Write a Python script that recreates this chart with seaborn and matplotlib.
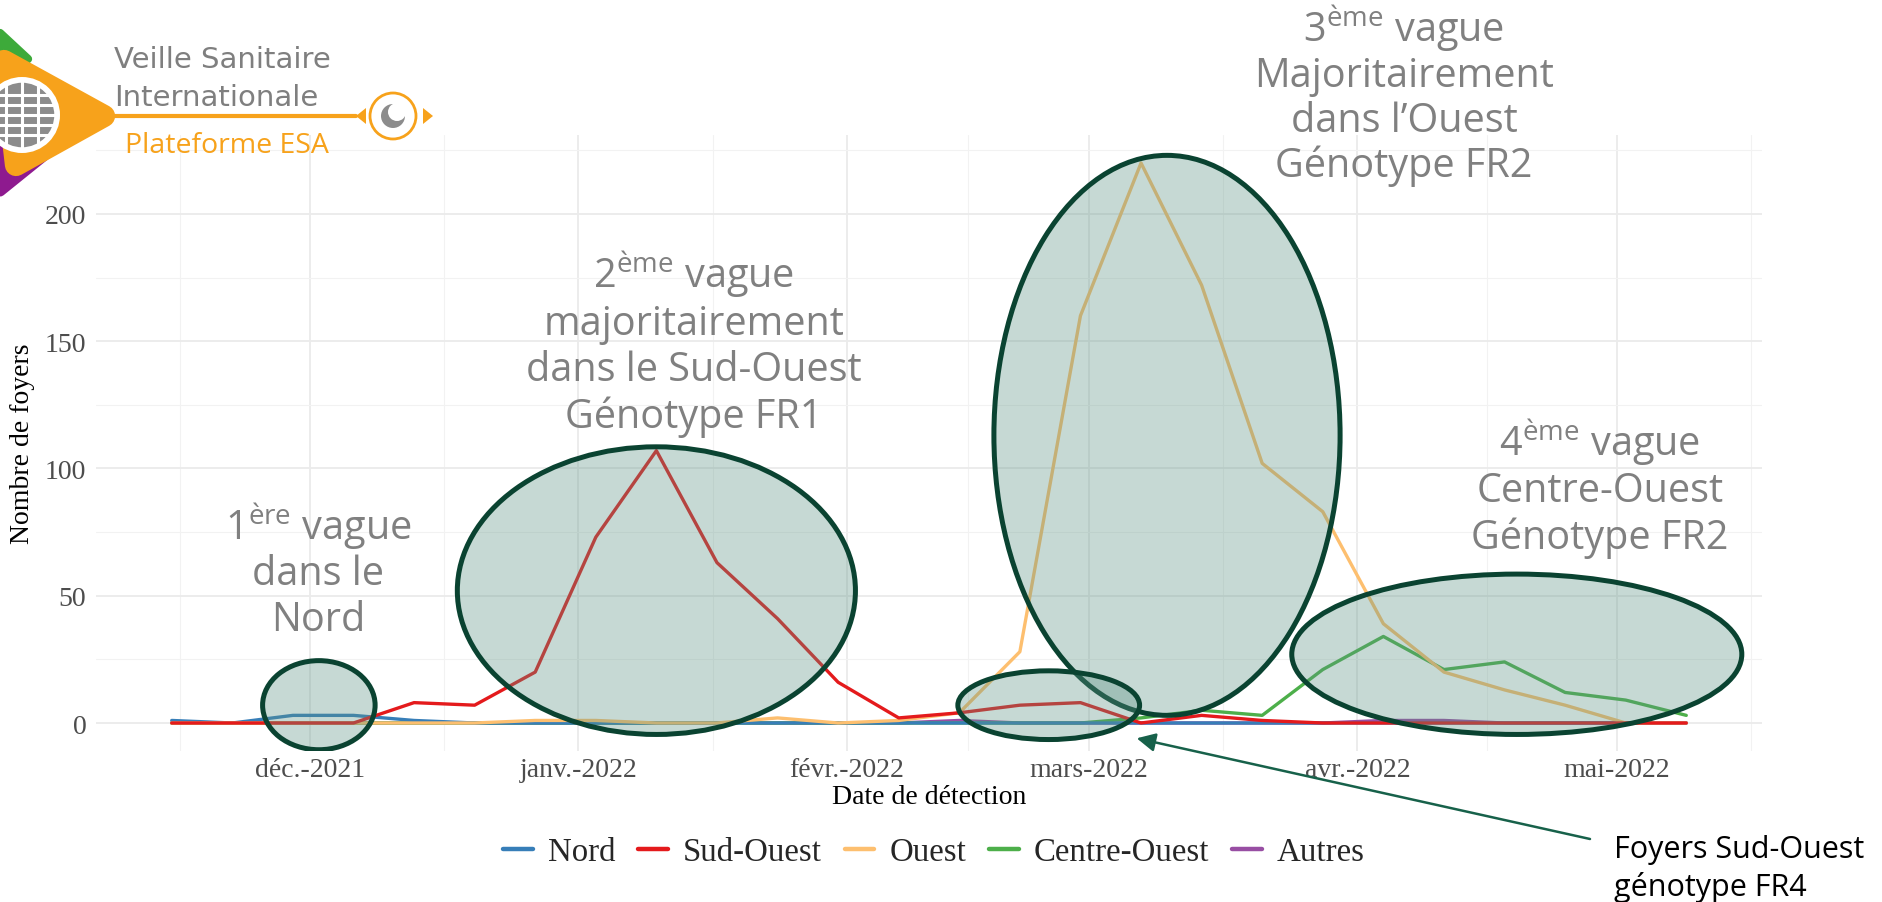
import numpy as np
import pandas as pd
import matplotlib
matplotlib.use('Agg')
import matplotlib.pyplot as plt
import matplotlib.dates as mdates
from matplotlib.patches import Ellipse, Polygon, Circle
from matplotlib.lines import Line2D
from matplotlib.transforms import IdentityTransform
import seaborn as sns

# ---------------- data ----------------
week_start = '2021-11-15'
n_weeks = 26
nord = [1, 0, 3, 3, 1, 0, 0, 0, 0, 0, 0, 0, 0, 0, 0, 0, 0, 0, 0, 0, 0, 0, 0, 0, 0, 0]
sud_ouest = [0, 0, 0, 0, 8, 7, 20, 73, 107, 63, 41, 16, 2, 4, 7, 8, 0, 3, 1, 0, 0, 0, 0, 0, 0, 0]
ouest = [0, 0, 0, 0, 0, 0, 1, 1, 0, 0, 2, 0, 1, 4, 28, 160, 220, 172, 102, 83, 39, 20, 13, 7, 0, 0]
centre_ouest = [0, 0, 0, 0, 0, 0, 0, 0, 0, 0, 0, 0, 0, 0, 0, 0, 2, 5, 3, 21, 34, 21, 24, 12, 9, 3]
autres = [0, 0, 0, 0, 0, 0, 0, 0, 0, 0, 0, 0, 0, 1, 0, 0, 0, 0, 0, 0, 1, 1, 0, 0, 0, 0]

legend_order = ['Nord', 'Sud-Ouest', 'Ouest', 'Centre-Ouest', 'Autres']
palette = {'Nord': '#377EB8', 'Sud-Ouest': '#E41A1C', 'Ouest': '#FDBF6F',
           'Centre-Ouest': '#4DAF4A', 'Autres': '#984EA3'}

month_ticks = ['2021-12-01', '2022-01-01', '2022-02-01', '2022-03-01', '2022-04-01', '2022-05-01']
month_labels = ['déc.-2021', 'janv.-2022', 'févr.-2022', 'mars-2022', 'avr.-2022', 'mai-2022']
minor_ticks = ['2021-11-16', '2021-12-16 12:00', '2022-01-16 12:00', '2022-02-15',
               '2022-03-16 12:00', '2022-04-16', '2022-05-16 12:00']
y_ticks = [0, 50, 100, 150, 200]

# annotation ellipses: (centre date, centre value, width in days, height in cases)
ellipses = [
    ('2021-12-02', 7, 13, 35),
    ('2022-01-10', 52, 46, 113),
    ('2022-03-10', 113, 40, 220),
    ('2022-02-24 08:00', 7, 21, 27),
    ('2022-04-19 10:00', 27, 52, 63),
]

# ---------------- frame ----------------
dates = pd.date_range(week_start, periods=n_weeks, freq='7D')
series = {'Nord': nord, 'Sud-Ouest': sud_ouest, 'Ouest': ouest,
          'Centre-Ouest': centre_ouest, 'Autres': autres}
df = pd.concat([pd.DataFrame({'date': dates, 'n': v, 'region': k}) for k, v in series.items()],
               ignore_index=True)
draw_order = sorted(legend_order)

sns.set_theme(style='white')
plt.rcParams['font.family'] = ['Liberation Serif', 'DejaVu Serif']
plt.rcParams['mathtext.fontset'] = 'custom'
plt.rcParams['mathtext.rm'] = 'Open Sans'
plt.rcParams['mathtext.it'] = 'Open Sans:italic'
plt.rcParams['mathtext.bf'] = 'Open Sans:bold'

W, H = 1882, 903
fig = plt.figure(figsize=(W / 100, H / 100), dpi=100)
ax = fig.add_axes([96 / W, 1 - 752 / H, (1762 - 96) / W, (752 - 136) / H])

sns.lineplot(data=df, x='date', y='n', hue='region', hue_order=draw_order,
             palette=palette, linewidth=2.4, ax=ax, legend=True)
handles, labels = ax.get_legend_handles_labels()
ax.get_legend().remove()
hmap = dict(zip(labels, handles))

span = (dates[-1] - dates[0]) * 0.05
ax.set_xlim(dates[0] - span, dates[-1] + span)
ax.set_ylim(-11, 231)

ax.set_xticks(pd.to_datetime(month_ticks))
ax.set_xticklabels(month_labels)
ax.set_xticks(pd.to_datetime(minor_ticks, format='mixed'), minor=True)
ax.set_yticks(y_ticks)
ax.set_yticks([25, 75, 125, 175, 225], minor=True)
ax.grid(which='major', color='#EBEBEB', linewidth=1.3)
ax.grid(which='minor', color='#F2F2F2', linewidth=0.8)
ax.set_axisbelow(True)
for s in ax.spines.values():
    s.set_visible(False)
ax.tick_params(axis='x', which='major', length=3, color='#C8C8C8', width=1.2,
               labelsize=20, labelcolor='#4D4D4D', pad=1)
ax.tick_params(axis='y', which='major', length=0, labelsize=20, labelcolor='#4D4D4D', pad=7)
ax.tick_params(which='minor', length=0)
ax.set_xlabel('Date de détection', fontsize=20, color='black', labelpad=1.5)
ax.set_ylabel('Nombre de foyers', fontsize=20, color='black', labelpad=7)

# ellipses on top of the lines
face = (0.368, 0.580, 0.521, 0.35)
for c, v, w, h in ellipses:
    e = Ellipse((mdates.date2num(pd.Timestamp(c)), v), w, h, facecolor=face,
                edgecolor='#0A4331', linewidth=3.6, zorder=5)
    ax.add_patch(e)

# legend
leg = fig.legend([hmap[k] for k in legend_order], legend_order, loc='center',
                 bbox_to_anchor=(934 / W, 1 - 853 / H), ncol=5, frameon=False,
                 fontsize=23.7, handlelength=0.9, handletextpad=0.45, columnspacing=0.7)
for ln in leg.get_lines():
    ln.set_linewidth(3.2)

# ---------------- annotation texts ----------------
gray = '#808080'
sans = ['Open Sans', 'DejaVu Sans']
def ftext(x, y, s, **kw):
    fig.text(x / W, 1 - y / H, s, **kw)

blocks = [
    (318, [540, 585, 631], [r'1$^{\mathrm{ère}}$ vague', 'dans le', 'Nord']),
    (694, [288, 335, 381, 428], [r'2$^{\mathrm{ème}}$ vague', 'majoritairement',
                                 'dans le Sud-Ouest', 'Génotype FR1']),
    (1404, [42, 87, 132, 177], [r'3$^{\mathrm{ème}}$ vague', 'Majoritairement',
                                'dans l’Ouest', 'Génotype FR2']),
    (1600, [456, 502, 549], [r'4$^{\mathrm{ème}}$ vague', 'Centre-Ouest', 'Génotype FR2']),
]
for xc, ys, lines in blocks:
    for y, s in zip(ys, lines):
        ftext(xc, y, s, ha='center', va='baseline', fontsize=28.5, color=gray, family=sans)

ftext(1614, 858, 'Foyers Sud-Ouest', ha='left', va='baseline', fontsize=22, color='black',
      family=sans)
ftext(1614, 896, 'génotype FR4', ha='left', va='baseline', fontsize=22, color='black',
      family=sans)

ax.annotate('', xy=(mdates.date2num(pd.Timestamp('2022-03-06 12:00')), -6),
            xytext=(1590, H - 840), textcoords='figure pixels',
            arrowprops=dict(arrowstyle='-|>', color='#17614A', lw=1.8,
                            mutation_scale=28, shrinkA=0, shrinkB=0),
            annotation_clip=False, zorder=6)

# ---------------- logo ----------------
def P(x, y):
    return (x, H - y)

orange = '#F7A21B'
idt = IdentityTransform()
fig.add_artist(Polygon([P(0, 34), P(28, 60), P(0, 80)], closed=True, facecolor='#3DAA3A',
                       edgecolor='#3DAA3A', lw=6, joinstyle='round', transform=idt))
fig.add_artist(Polygon([P(0, 148), P(50, 124), P(62, 142), P(0, 192)], closed=True,
                       facecolor='#8E1A8F', edgecolor='#8E1A8F', lw=8, joinstyle='round',
                       transform=idt))
fig.add_artist(Polygon([P(4, 62), P(104, 117), P(16, 166)], closed=True, facecolor=orange,
                       edgecolor=orange, lw=16, joinstyle='round', transform=idt))
fig.add_artist(Circle(P(22, 116), 38, facecolor='white', edgecolor='none', transform=idt))
fig.add_artist(Circle(P(22, 116), 34, facecolor='#8C8C8C', edgecolor='white', lw=2.5,
                      transform=idt))
for dy in (-20, -10, 0, 10, 20):
    half = np.sqrt(max(34 ** 2 - dy ** 2, 0))
    fig.add_artist(Line2D([22 - half, 22 + half], [H - 116 - dy, H - 116 - dy], color='white',
                          lw=2.2, transform=idt))
for dx in (-16, 0, 16):
    half = np.sqrt(max(34 ** 2 - dx ** 2, 0))
    fig.add_artist(Line2D([22 + dx, 22 + dx], [H - 116 - half, H - 116 + half], color='white',
                          lw=2.2, transform=idt))
fig.add_artist(Line2D([104, 356], [H - 117, H - 117], color=orange, lw=3, transform=idt))
fig.add_artist(Polygon([P(356, 117), P(366, 109), P(366, 125)], closed=True, facecolor=orange,
                       edgecolor='none', transform=idt))
fig.add_artist(Polygon([P(433, 117), P(423, 109), P(423, 125)], closed=True, facecolor=orange,
                       edgecolor='none', transform=idt))
fig.add_artist(Circle(P(393, 117), 23, facecolor='white', edgecolor=orange, lw=2,
                      transform=idt))
fig.add_artist(Circle(P(393, 117), 12, facecolor='#8C8C8C', edgecolor='none', transform=idt))
fig.add_artist(Circle(P(397, 113), 9, facecolor='white', edgecolor='none', transform=idt))

ftext(114, 68, 'Veille Sanitaire', ha='left', va='baseline', fontsize=21, color='#7F7F7F',
      family=['DejaVu Sans'])
ftext(114, 106, 'Internationale', ha='left', va='baseline', fontsize=21, color='#7F7F7F',
      family=['DejaVu Sans'])
ftext(125, 153, 'Plateforme ESA', ha='left', va='baseline', fontsize=20.5, color=orange,
      family=sans)

fig.savefig('out.png', dpi=100)
